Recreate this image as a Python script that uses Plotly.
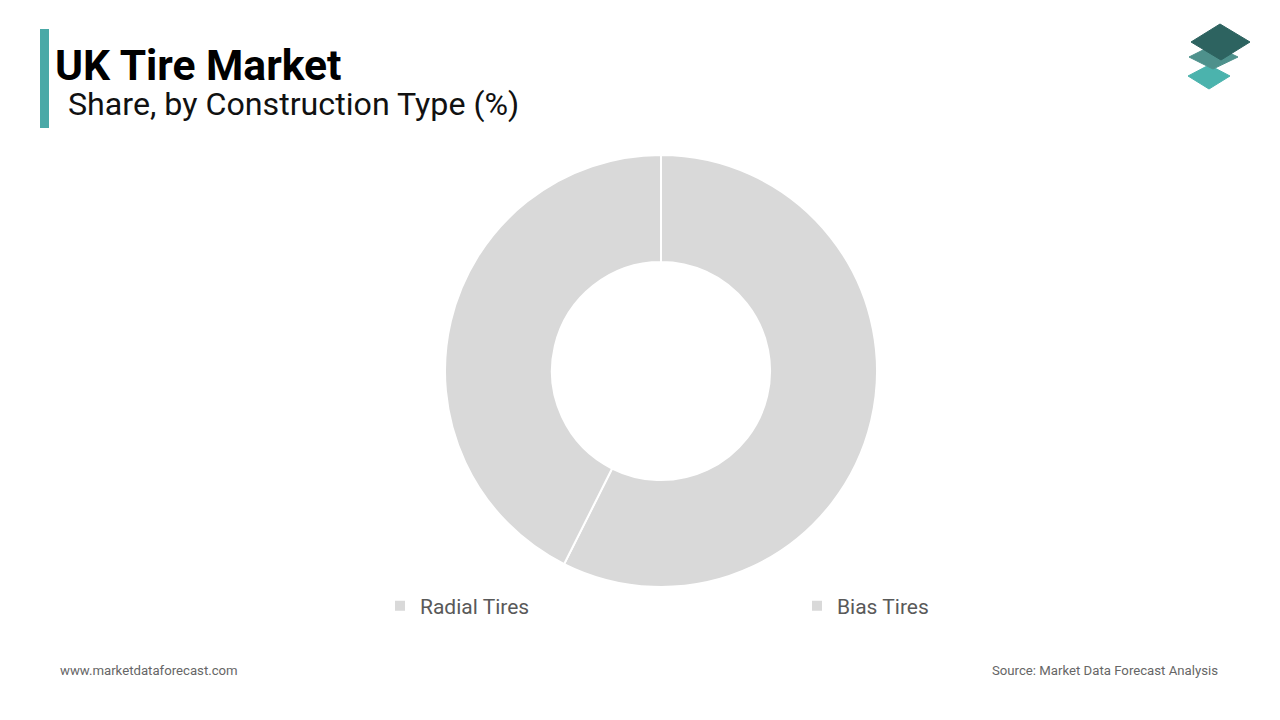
import plotly.graph_objects as go

categories = ["Radial Tires", "Bias Tires"]
shares = [57.4, 42.6]
slice_colors = ["#d9d9d9", "#d9d9d9"]

title_text = "UK Tire Market"
subtitle_text = "Share, by Construction Type (%)"
footer_left = "www.marketdataforecast.com"
footer_right = "Source: Market Data Forecast Analysis"

W, H = 1280, 720

def px(x):
    return x / W

def py(y):
    return 1 - y / H

fig = go.Figure()
fig.add_trace(go.Pie(
    labels=categories,
    values=shares,
    hole=0.505,
    sort=False,
    direction="clockwise",
    rotation=0,
    marker=dict(colors=slice_colors, line=dict(color="white", width=2)),
    textinfo="none",
    domain=dict(x=[px(445), px(877)], y=[py(587), py(155)]),
    showlegend=True,
))

shapes = [
    dict(type="rect", xref="paper", yref="paper",
         x0=px(40), x1=px(49), y0=py(128), y1=py(29),
         fillcolor="#4aa9a7", line=dict(width=0)),
]

def diamond(pts, color):
    p = " L".join(f"{px(x)},{py(y)}" for x, y in pts)
    return dict(type="path", xref="paper", yref="paper",
                path=f"M{p} Z", fillcolor=color, line=dict(color=color, width=1))

shapes.append(diamond([(1188, 76), (1209, 65), (1230, 76), (1209, 89)], "#4bb3ad"))
shapes.append(diamond([(1189, 57), (1213, 45), (1238, 57), (1213, 69)], "#4e918c"))
shapes.append(diamond([(1191, 42), (1220, 24), (1250, 42), (1221, 60)], "#2d6360"))

annotations = [
    dict(text=f"<b>{title_text}</b>", xref="paper", yref="paper",
         x=px(53), y=py(65), xanchor="left", yanchor="middle", showarrow=False,
         font=dict(family="Roboto", size=42.6, color="#000000")),
    dict(text=subtitle_text, xref="paper", yref="paper",
         x=px(66), y=py(104), xanchor="left", yanchor="middle", showarrow=False,
         font=dict(family="Roboto", size=32.2, color="#111111")),
    dict(text=footer_left, xref="paper", yref="paper",
         x=px(58), y=py(670), xanchor="left", yanchor="middle", showarrow=False,
         font=dict(family="Roboto", size=13.2, color="#666666")),
    dict(text=footer_right, xref="paper", yref="paper",
         x=px(1220), y=py(670), xanchor="right", yanchor="middle", showarrow=False,
         font=dict(family="Roboto", size=13.2, color="#666666")),
]

fig.update_layout(
    width=W, height=H,
    margin=dict(l=0, r=0, t=0, b=0),
    paper_bgcolor="white", plot_bgcolor="white",
    shapes=shapes,
    annotations=annotations,
    legend=dict(orientation="h", x=px(797), xanchor="center", y=py(606), yanchor="middle",
                font=dict(family="Roboto", size=21, color="#595959"),
                entrywidth=372, entrywidthmode="pixels", itemwidth=30,
                traceorder="normal"),
)

fig.write_html("out.html", config={"displayModeBar": False},
               post_script="document.body.style.margin='0';document.body.style.overflow='hidden';")
